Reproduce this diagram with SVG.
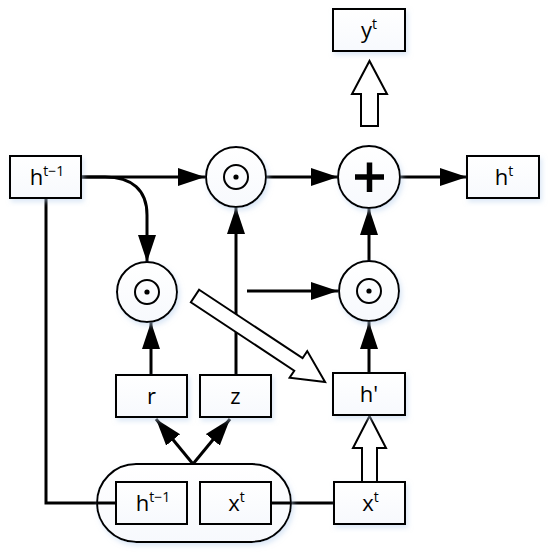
<svg xmlns="http://www.w3.org/2000/svg" width="550" height="556" viewBox="0 0 550 556">
<defs>
<filter id="glow" x="-20%" y="-20%" width="140%" height="140%">
<feDropShadow dx="2" dy="3" stdDeviation="2.5" flood-color="#b9d0ee" flood-opacity="0.5"/>
</filter>
<linearGradient id="fillg" x1="0" y1="0" x2="0" y2="1">
<stop offset="0" stop-color="#ffffff"/>
<stop offset="1" stop-color="#f7f9fd"/>
</linearGradient>
<marker id="ah" markerUnits="userSpaceOnUse" markerWidth="28" markerHeight="20" refX="27" refY="9" orient="auto">
<path d="M0,0 L27,9 L0,18 z" fill="#000"/>
</marker>
</defs>
<style>
.box{fill:url(#fillg);stroke:#000;stroke-width:2}
.circ{fill:url(#fillg);stroke:#000;stroke-width:2}
.inner{fill:none;stroke:#000;stroke-width:2}
.dot{fill:#000}
.conn{fill:none;stroke:#000;stroke-width:3}
.arr{fill:none;stroke:#000;stroke-width:3;marker-end:url(#ah)}
.hollow{fill:#fff;stroke:#000;stroke-width:2;stroke-linejoin:miter}
text{font-family:"Open Sans","DejaVu Sans",sans-serif;font-size:22px;fill:#000;text-anchor:middle}
.sup{font-size:14px}
</style>

<g id="connectors">
<path class="conn" d="M46,198 V503 H116"/>
<path class="conn" d="M271,503 H334"/>
<path class="arr" d="M81,177 H205"/>
<path class="arr" d="M81,177 H105 C132,177 147,190 147,215 V262"/>
<path class="arr" d="M236,375 V207"/>
<path class="arr" d="M266,177 H338"/>
<path class="arr" d="M400,177 H467"/>
<path class="arr" d="M369,261 V208"/>
<path class="arr" d="M369,373 V322"/>
<path class="arr" d="M247,291 H338"/>
<path class="arr" d="M151,375 V322"/>
<path class="arr" d="M193,464 L156,419"/>
<path class="arr" d="M193,464 L230,419"/>
<polygon class="hollow" points="0,-7.5 124,-7.5 124,-16 156,0 124,16 124,7.5 0,7.5" transform="translate(195,296) rotate(33.5)"/>
<polygon class="hollow" points="361,126 361,94 352,94 369.5,61 387,94 378,94 378,126"/>
<polygon class="hollow" points="362,482 362,448 353,448 369.5,416 386,448 377,448 377,482"/>
</g>

<g id="node-yt">
<rect class="box" x="333" y="9" width="72" height="42" filter="url(#glow)"/>
<text x="369" y="38">y<tspan class="sup" dy="-9">t</tspan></text>
</g>

<g id="node-ht1">
<rect class="box" x="10" y="156" width="71" height="42" filter="url(#glow)"/>
<text x="47" y="185">h<tspan class="sup" dy="-9">t−1</tspan></text>
</g>

<g id="node-ht">
<rect class="box" x="467" y="156" width="72" height="42" filter="url(#glow)"/>
<text x="504" y="185">h<tspan class="sup" dy="-9">t</tspan></text>
</g>

<g id="node-mul1">
<circle class="circ" cx="236" cy="177" r="30" filter="url(#glow)"/>
<circle class="inner" cx="236" cy="177" r="12"/>
<circle class="dot" cx="236" cy="177" r="2.6"/>
</g>

<g id="node-plus">
<circle class="circ" cx="369" cy="177" r="31" filter="url(#glow)"/>
<path d="M355,177 H384 M369.5,162.5 V192" stroke="#000" stroke-width="5.5" fill="none"/>
</g>

<g id="node-mul-r">
<circle class="circ" cx="147" cy="292" r="30" filter="url(#glow)"/>
<circle class="inner" cx="147" cy="292" r="12"/>
<circle class="dot" cx="147" cy="292" r="2.6"/>
</g>

<g id="node-mul2">
<circle class="circ" cx="369" cy="291" r="30" filter="url(#glow)"/>
<circle class="inner" cx="369" cy="291" r="12"/>
<circle class="dot" cx="369" cy="291" r="2.6"/>
</g>

<g id="node-r">
<rect class="box" x="116" y="375" width="71" height="42" filter="url(#glow)"/>
<text x="151.5" y="404">r</text>
</g>

<g id="node-z">
<rect class="box" x="200" y="375" width="71" height="42" filter="url(#glow)"/>
<text x="235.5" y="404">z</text>
</g>

<g id="node-hprime">
<rect class="box" x="333" y="373" width="72" height="42" filter="url(#glow)"/>
<text x="369" y="402">h'</text>
</g>

<g id="node-concat">
<rect class="box" x="97" y="464" width="194" height="78" rx="39" ry="39" filter="url(#glow)"/>
<path class="conn" d="M97,503 H116 M271,503 H291"/>
<rect class="box" x="116" y="482" width="71" height="42"/>
<text x="153" y="511">h<tspan class="sup" dy="-9">t−1</tspan></text>
<rect class="box" x="200" y="482" width="71" height="42"/>
<text x="236.5" y="511">x<tspan class="sup" dy="-9">t</tspan></text>
</g>

<g id="node-xt">
<rect class="box" x="334" y="482" width="71" height="42" filter="url(#glow)"/>
<text x="370.5" y="511">x<tspan class="sup" dy="-9">t</tspan></text>
</g>
</svg>
